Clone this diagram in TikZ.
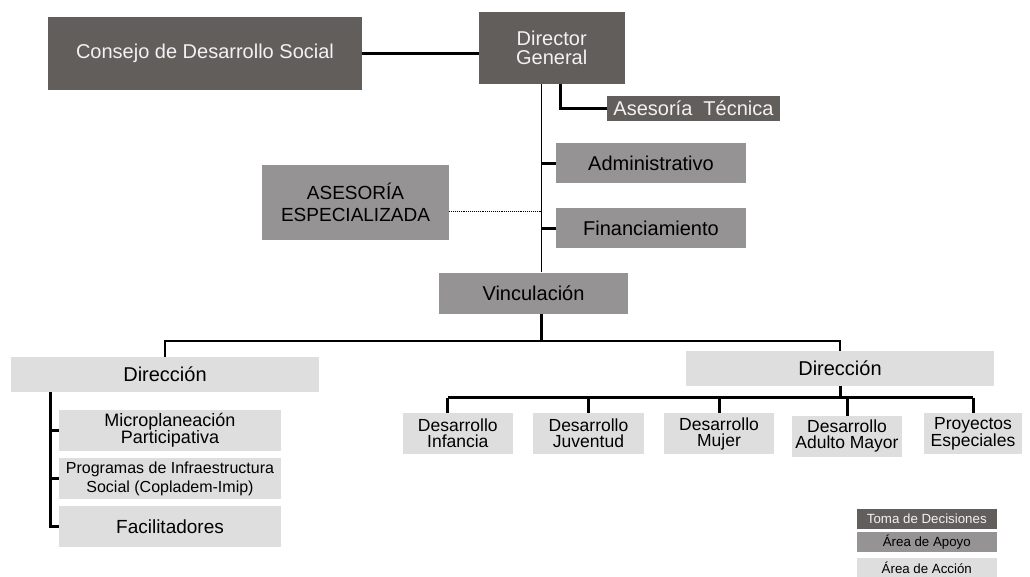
\documentclass[tikz,border=0pt]{standalone}
\usepackage{fontspec}
\setmainfont{Liberation Sans}
\definecolor{decision}{HTML}{625E5C}
\definecolor{support}{HTML}{959394}
\definecolor{action}{HTML}{DEDEDE}
\definecolor{paleink}{HTML}{F2F2F2}
\newcommand{\fsz}[2]{\fontsize{#1}{#2}\selectfont}
\tikzset{box/.style 2 args={inner sep=0pt, align=center, minimum width=#1pt, minimum height=#2pt}}
\tikzset{topbox/.style={fill=decision, text=paleink}}
\tikzset{midbox/.style={fill=support, text=black}}
\tikzset{lowbox/.style={fill=action, text=black}}
\tikzset{wire/.style={line width=1.4pt}}
\tikzset{link/.style={line width=3pt}}

\begin{document}
\begin{tikzpicture}[x=1pt,y=-1pt]
      \useasboundingbox (0,0) rectangle (1030,576);
      % upper levels
      \node[topbox,box={314}{73},font=\fsz{20}{19}] (consejo) at (205,53.3) {Consejo de Desarrollo Social};
      \node[topbox,box={146}{72},font=\fsz{20}{19}] (director) at (551.7,48) {Director\\General};
      \node[topbox,box={173}{25},font=\fsz{20}{19}] (tecnica) at (693.5,108.5) {Asesoría\ \ Técnica};
      \node[midbox,box={190}{40},font=\fsz{20}{19}] (admin) at (651,163) {Administrativo};
      \node[midbox,box={190}{40},font=\fsz{20}{19}] (financ) at (651,228) {Financiamiento};
      \node[midbox,box={187}{75},font=\fsz{19}{22}] (especial) at (355.5,202.5) {ASESORÍA\\ESPECIALIZADA};
      \node[midbox,box={189}{41},font=\fsz{20}{19}] (vinc) at (533.5,293) {Vinculación};
      % two directions
      \node[lowbox,box={308}{35},font=\fsz{20}{19}] (dirL) at (165,374.5) {Dirección};
      \node[lowbox,box={308}{35},font=\fsz{20}{19}] (dirR) at (840,368.5) {Dirección};
      \node[lowbox,box={222}{41},font=\fsz{18}{17}] (micro) at (170,430) {Microplaneación\\Participativa};
      \node[lowbox,box={222}{41},font=\fsz{16}{19}] (progr) at (170,478.5) {Programas de Infraestructura\\Social (Copladem-Imip)};
      \node[lowbox,box={222}{41},font=\fsz{19}{19}] (facil) at (170,526.5) {Facilitadores};
      \node[lowbox,box={110}{41},font=\fsz{17.5}{16}] (infancia) at (457.8,433.5) {Desarrollo\\Infancia};
      \node[lowbox,box={111}{41},font=\fsz{17.5}{16}] (juventud) at (588.5,433.5) {Desarrollo\\Juventud};
      \node[lowbox,box={110}{41},font=\fsz{17.5}{16}] (mujer) at (719,433.5) {Desarrollo\\Mujer};
      \node[lowbox,box={110}{41},font=\fsz{17.5}{16}] (adulto) at (847,436.3) {Desarrollo\\Adulto Mayor};
      \node[lowbox,box={98}{41},font=\fsz{17.5}{16}] (proyectos) at (973,433.5) {Proyectos\\Especiales};
      % legend
      \node[topbox,box={140}{19.7},font=\fsz{13.3}{14}] (toma) at (926.8,518.8) {Toma de Decisiones};
      \node[midbox,box={140}{19.7},font=\fsz{13.3}{14}] (apoyo) at (926.8,541.8) {Área de Apoyo};
      \node[lowbox,box={140}{19.7},font=\fsz{13.3}{14}] (accion) at (926.8,568) {Área de Acción};

      \coordinate (trunk) at (541.5,0);
      \coordinate (bus) at (0,341);
      \coordinate (row) at (0,397.7);
      \coordinate (side) at (50,0);
      \coordinate (dotend) at ([yshift=-8.5pt]especial.east);
      % connectors
      \draw[link] (consejo.east) -- (consejo.east -| director.west);
      \draw[wire] (trunk |- director.south) -- (trunk |- vinc.north);
      \draw[link] ([xshift=8.3pt]director.south) |- (tecnica.west);
      \draw[link] (trunk |- admin.west) -- (admin.west);
      \draw[link] (trunk |- financ.west) -- (financ.west);
      \draw[line width=0.9pt,densely dotted] (dotend) -- (trunk |- dotend);
      \draw[link] (trunk |- vinc.south) -- (trunk |- bus);
      \draw[wire] (dirL.north) -- (dirL.north |- bus) -- (dirR.north |- bus) -- (dirR.north);
      \draw[link] (dirR.south) -- (dirR.south |- row);
      \draw[link] ([xshift=-10pt]infancia.north |- row) -- (proyectos.north |- row);
      \draw[link] ([xshift=-10pt]infancia.north) -- ([xshift=-10pt]infancia.north |- row);
      \foreach \n in {juventud,mujer,adulto,proyectos}
        \draw[link] (\n.north) -- (\n.north |- row);
      \draw[link] (side |- dirL.south) |- (facil.west);
      \draw[link] (side |- micro.west) -- (micro.west);
      \draw[link] (side |- progr.west) -- (progr.west);
    \end{tikzpicture}
\end{document}
